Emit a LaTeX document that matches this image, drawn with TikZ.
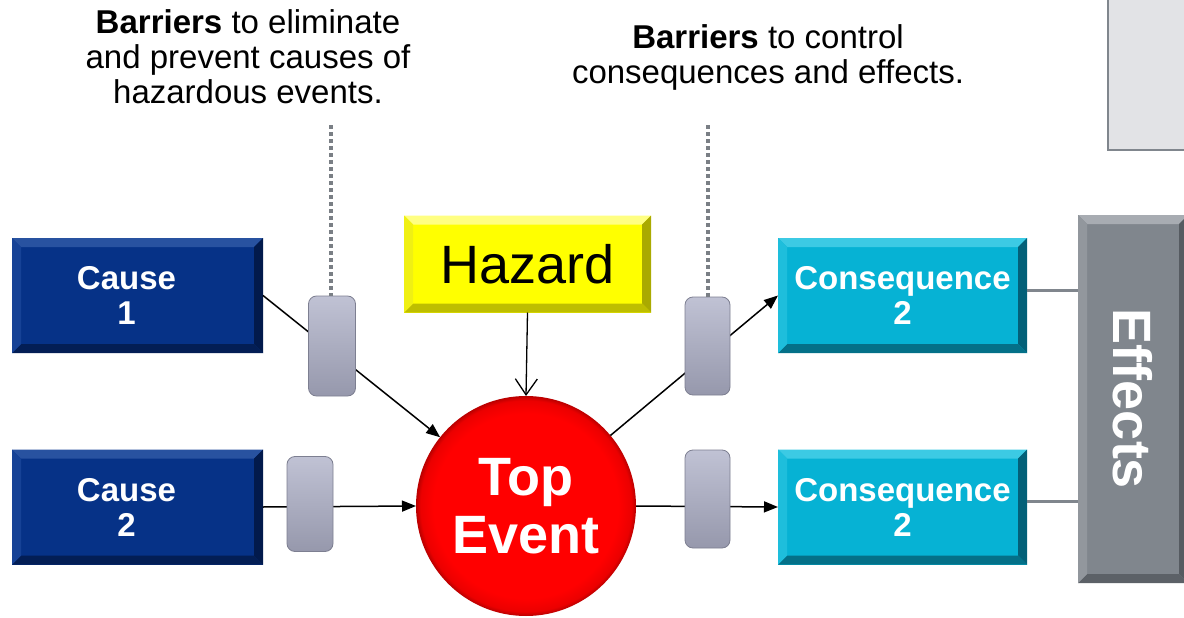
\documentclass[tikz,border=0pt]{standalone}
\usepackage{fontspec}
\setmainfont{Liberation Sans}
\usetikzlibrary{arrows.meta}
\definecolor{cM}{RGB}{6,50,135}
\definecolor{cT}{RGB}{40,82,160}
\definecolor{cL}{RGB}{22,66,150}
\definecolor{cB}{RGB}{3,30,85}
\definecolor{cR}{RGB}{2,26,76}
\definecolor{qM}{RGB}{6,178,212}
\definecolor{qT}{RGB}{60,202,228}
\definecolor{qL}{RGB}{30,190,220}
\definecolor{qB}{RGB}{4,112,136}
\definecolor{qR}{RGB}{3,96,120}
\definecolor{hM}{RGB}{255,255,0}
\definecolor{hT}{RGB}{255,255,130}
\definecolor{hL}{RGB}{240,240,20}
\definecolor{hB}{RGB}{190,190,0}
\definecolor{hR}{RGB}{170,170,0}
\definecolor{eM}{RGB}{128,134,141}
\definecolor{eT}{RGB}{168,172,178}
\definecolor{eL}{RGB}{146,151,157}
\definecolor{eB}{RGB}{92,97,103}
\definecolor{eR}{RGB}{86,91,97}
\definecolor{rdA}{RGB}{255,0,0}
\definecolor{rdB}{RGB}{235,0,0}
\definecolor{rdC}{RGB}{185,0,0}
\definecolor{barT}{RGB}{192,194,212}
\definecolor{barB}{RGB}{150,152,172}
\definecolor{barD}{RGB}{125,127,145}
\definecolor{dotG}{RGB}{122,127,133}
\definecolor{panel}{RGB}{226,227,230}
\pgfdeclareradialshading{redball}{\pgfpoint{0bp}{0bp}}{color(0bp)=(rdA); color(21bp)=(rdA); color(24bp)=(rdB); color(25bp)=(rdC); color(50bp)=(rdC)}
\newcommand\bvw{9pt}
\tikzset{
  bevel/.style n args={5}{fill=#1, inner sep=0pt, outer sep=0pt, path picture={
    \coordinate (q1) at (path picture bounding box.north west);
    \coordinate (q2) at (path picture bounding box.north east);
    \coordinate (q3) at (path picture bounding box.south east);
    \coordinate (q4) at (path picture bounding box.south west);
    \fill[#2] (q1) -- (q2) -- ([shift={(-\bvw,-\bvw)}]q2) -- ([shift={(\bvw,-\bvw)}]q1) -- cycle;
    \fill[#3] (q2) -- (q3) -- ([shift={(-\bvw,\bvw)}]q3) -- ([shift={(-\bvw,-\bvw)}]q2) -- cycle;
    \fill[#4] (q3) -- (q4) -- ([shift={(\bvw,\bvw)}]q4) -- ([shift={(-\bvw,\bvw)}]q3) -- cycle;
    \fill[#5] (q4) -- (q1) -- ([shift={(\bvw,-\bvw)}]q1) -- ([shift={(\bvw,\bvw)}]q4) -- cycle;
  }},
  causebox/.style={bevel={cM}{cT}{cR}{cB}{cL}, minimum width=251pt, minimum height=115pt,
    text=white, font=\fontsize{33}{35}\selectfont\bfseries, align=center},
  consbox/.style={bevel={qM}{qT}{qR}{qB}{qL}, minimum width=249pt, minimum height=115pt,
    text=white, font=\fontsize{33}{35}\selectfont\bfseries, align=center},
  barrier/.style={rounded corners=8pt, top color=barT, bottom color=barB, draw=barD,
    line width=0.8pt, minimum width=46pt, minimum height=98pt, inner sep=0pt},
  link/.style={line width=1.5pt, -{Triangle[length=14pt,width=11pt]}},
  dotline/.style={line width=4pt, dotG, dash pattern=on 4pt off 3pt},
  effline/.style={line width=3pt, eM},
  note/.style={font=\fontsize{33}{35}\selectfont, align=center, text=black},
}
\begin{document}
\begin{tikzpicture}[x=1pt,y=-1pt]
\clip (0,0) rectangle (1184,618);
\fill[white] (0,0) rectangle (1184,618);

% top-right panel
\fill[panel] (1107,-3) rectangle (1190,150);
\draw[line width=2pt, eM] (1108,-3) -- (1108,150) -- (1190,150);

% annotations
\node[note] (n1) at (248,57) {\textbf{Barriers} to eliminate\\and prevent causes of\\hazardous events.};
\node[note] (n2) at (768,57) {\textbf{Barriers} to control\\consequences and effects.};

% main nodes
\node[causebox] (c1) at (137.5,295.5) {\hspace*{-22pt}Cause\\\hspace*{-22pt}1};
\node[causebox] (c2) at (137.5,507) {\hspace*{-22pt}Cause\\\hspace*{-22pt}2};
\node[bevel={hM}{hT}{hR}{hB}{hL}, minimum width=247pt, minimum height=97pt,
  font=\fontsize{54}{60}\selectfont] (hz) at (527.5,264) {Hazard};
\node[circle, minimum size=220pt, inner sep=0pt, outer sep=0pt, shading=redball,
  text=white, font=\fontsize{54}{58}\selectfont\bfseries, align=center] (te) at (526,506) {Top\\Event};
\node[consbox] (k1) at (902.5,295.5) {Consequence\\2};
\node[consbox] (k2) at (902.5,507) {Consequence\\2};
\node[bevel={eM}{eT}{eR}{eB}{eL}, minimum width=110pt, minimum height=368pt,
  text=white, font=\fontsize{54}{60}\selectfont\bfseries] (ef) at (1133,399) {\rotatebox{-90}{Effects}};

% connectors
\draw[link] (c1.east) -- (te);
\draw[link] (c2.east) -- (te.west);
\draw[line width=1.3pt, -{Straight Barb[length=16pt,width=22pt,line width=1.3pt]}] (hz.south) -- (te.north);
\draw[link] (te) -- (k1.west);
\draw[link] (te.east) -- (k2.west);
\draw[effline] ([yshift=5pt]k1.east) -- ([yshift=5pt]k1.east -| ef.west);
\draw[effline] ([yshift=6pt]k2.east) -- ([yshift=6pt]k2.east -| ef.west);

% barriers
\node[barrier, minimum width=47pt, minimum height=100pt] (b1) at (332,346) {};
\node[barrier, minimum height=95pt] (b2) at (310,504) {};
\node[barrier, minimum width=45pt] (b3) at (707.5,346) {};
\node[barrier, minimum width=45pt] (b4) at (707.5,499) {};

\coordinate (d1) at (331,125);
\coordinate (d2) at (708,125);
\draw[dotline] (d1) -- (d1 |- b1.north);
\draw[dotline] (d2) -- (d2 |- b3.north);
\end{tikzpicture}
\end{document}
